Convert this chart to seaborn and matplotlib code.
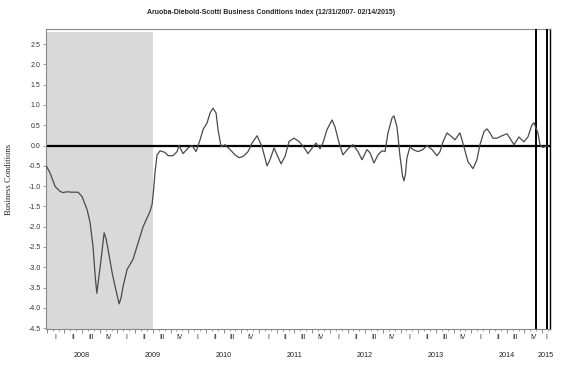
import numpy as np
import pandas as pd
import matplotlib
matplotlib.use("Agg")
import matplotlib.pyplot as plt
import seaborn as sns

# ADS index (decimal year, index value)
years = [
    2007.997, 2008.048, 2008.119, 2008.189, 2008.232, 2008.288, 2008.359, 2008.444,
    2008.500, 2008.571, 2008.613, 2008.655, 2008.684, 2008.708, 2008.733, 2008.754,
    2008.782, 2008.811, 2008.839, 2008.867, 2008.924, 2008.966, 2008.994, 2009.023,
    2009.051, 2009.079, 2009.136, 2009.178, 2009.220, 2009.291, 2009.362, 2009.419,
    2009.460, 2009.489, 2009.510, 2009.531, 2009.559, 2009.602, 2009.672, 2009.715,
    2009.785, 2009.842, 2009.870, 2009.927, 2009.997, 2010.054, 2010.110, 2010.167,
    2010.209, 2010.266, 2010.308, 2010.350, 2010.393, 2010.421, 2010.463, 2010.520,
    2010.590, 2010.661, 2010.718, 2010.774, 2010.845, 2010.901, 2010.972, 2011.042,
    2011.113, 2011.155, 2011.212, 2011.254, 2011.311, 2011.367, 2011.424, 2011.494,
    2011.565, 2011.636, 2011.692, 2011.763, 2011.805, 2011.862, 2011.904, 2011.960,
    2012.031, 2012.073, 2012.130, 2012.186, 2012.257, 2012.327, 2012.398, 2012.455,
    2012.525, 2012.568, 2012.624, 2012.681, 2012.737, 2012.780, 2012.822, 2012.879,
    2012.907, 2012.949, 2012.992, 2013.006, 2013.027, 2013.048, 2013.069, 2013.090,
    2013.133, 2013.175, 2013.246, 2013.316, 2013.373, 2013.444, 2013.514, 2013.557,
    2013.599, 2013.655, 2013.726, 2013.768, 2013.839, 2013.895, 2013.952, 2014.023,
    2014.079, 2014.121, 2014.178, 2014.220, 2014.263, 2014.305, 2014.362, 2014.432,
    2014.503, 2014.545, 2014.602, 2014.672, 2014.742, 2014.799, 2014.856, 2014.884,
    2014.941, 2014.969, 2015.011, 2015.040, 2015.082,
]
values = [
    -0.51, -0.68, -1.01, -1.13, -1.16, -1.14, -1.15, -1.15,
    -1.26, -1.58, -1.90, -2.50, -3.20, -3.64, -3.30, -3.00,
    -2.60, -2.15, -2.30, -2.56, -3.13, -3.47, -3.68, -3.90,
    -3.75, -3.47, -3.05, -2.93, -2.80, -2.40, -2.00, -1.78,
    -1.62, -1.45, -1.10, -0.65, -0.23, -0.13, -0.17, -0.25,
    -0.25, -0.15, 0.00, -0.20, -0.06, 0.00, -0.15, 0.14,
    0.39, 0.56, 0.80, 0.92, 0.80, 0.39, -0.03, 0.02,
    -0.10, -0.23, -0.30, -0.27, -0.15, 0.06, 0.24, -0.03,
    -0.50, -0.35, -0.06, -0.23, -0.45, -0.27, 0.10, 0.18,
    0.10, -0.05, -0.20, -0.03, 0.06, -0.08, 0.07, 0.39,
    0.63, 0.46, 0.07, -0.23, -0.08, 0.02, -0.15, -0.35,
    -0.10, -0.18, -0.43, -0.23, -0.13, -0.15, 0.31, 0.68,
    0.73, 0.46, -0.27, -0.45, -0.75, -0.87, -0.70, -0.30,
    -0.03, -0.10, -0.15, -0.10, 0.00, -0.10, -0.25, -0.15,
    0.09, 0.31, 0.21, 0.14, 0.31, -0.03, -0.40, -0.57,
    -0.35, 0.02, 0.34, 0.41, 0.31, 0.18, 0.18, 0.24,
    0.29, 0.18, 0.02, 0.21, 0.09, 0.21, 0.51, 0.56,
    0.31, 0.02, -0.05, -0.03, 0.00,
]

recession = (2007.99, 2009.5)
markers = [2014.908, 2015.075]
y_ticks = [-4.5, -4.0, -3.5, -3.0, -2.5, -2.0, -1.5, -1.0, -0.5,
           0.0, 0.5, 1.0, 1.5, 2.0, 2.5]
quarter_names = ["I", "II", "III", "IV"]
year_names = ["2008", "2009", "2010", "2011", "2012", "2013", "2014", "2015"]

x0, x1 = 2007.99, 2015.115

df = pd.DataFrame({"year": years, "ads": values})

sns.set_style("white")
plt.rcParams["font.family"] = ["Liberation Sans", "DejaVu Sans"]

fig = plt.figure(figsize=(5.75, 3.69), dpi=100)
ax = fig.add_axes([0.080, 0.1084, 0.877, 0.813])

ax.axvspan(recession[0], recession[1], ymin=0, ymax=0.991, color="#d9d9d9", lw=0, zorder=0)
ax.axhline(0, color="black", lw=1.6, zorder=2)
for m in markers:
    ax.axvline(m, color="black", lw=1.4, zorder=3)

sns.lineplot(data=df, x="year", y="ads", ax=ax, color="#4a4a4a", lw=0.9, zorder=4)
ax.lines[-1].set_solid_joinstyle("round")

ax.set_xlim(x0, x1)
ax.set_ylim(-4.52, 2.87)
ax.set_yticks(y_ticks)
ax.set_yticklabels([f"{v:.1f}" for v in y_ticks], fontsize=5.0, color="#333333")
ax.tick_params(axis="y", direction="out", length=2.5, width=0.5, color="#777777", pad=1.5, left=True)

# x ticks: quarter boundaries (major), months (minor)
major = [2008 + q / 4 for q in range(0, 29)]
minor = [2008 + mth / 12 for mth in range(0, 86)]
ax.set_xticks(major)
ax.set_xticklabels([])
ax.set_xticks(minor, minor=True)
ax.tick_params(axis="x", which="major", direction="out", length=3, width=0.6, color="#777777", bottom=True)
ax.tick_params(axis="x", which="minor", direction="out", length=1.5, width=0.5, color="#777777", bottom=True)

trans = ax.get_xaxis_transform()
for yi, yr in enumerate(year_names):
    y = 2008 + yi
    for qi, qn in enumerate(quarter_names):
        lo, hi = y + qi / 4, min(y + (qi + 1) / 4, x1)
        if lo >= x1:
            break
        ax.text((lo + hi) / 2, -0.027, qn, transform=trans, ha="center", va="center",
                fontsize=4.8, color="#222222")
    ax.text((y + min(y + 1, x1)) / 2, -0.087, yr, transform=trans, ha="center", va="center",
            fontsize=5.2, color="#222222")

ax.set_xlabel("")
ax.set_ylabel("Business Conditions", family=["Liberation Serif", "DejaVu Serif"],
              fontsize=6.2)
ax.yaxis.set_label_coords(-0.066, 0.5)

for side in ["left", "top", "bottom"]:
    ax.spines[side].set_color("#888888")
    ax.spines[side].set_linewidth(0.8)
ax.spines["right"].set_color("black")
ax.spines["right"].set_linewidth(1.0)

fig.text(0.471, 0.967, "Aruoba-Diebold-Scotti Business Conditions Index (12/31/2007- 02/14/2015)",
         ha="center", va="center", fontsize=5.0, fontweight="bold",
         family=["Liberation Sans Narrow", "Liberation Sans", "DejaVu Sans"])

fig.savefig("out.png", dpi=100)
